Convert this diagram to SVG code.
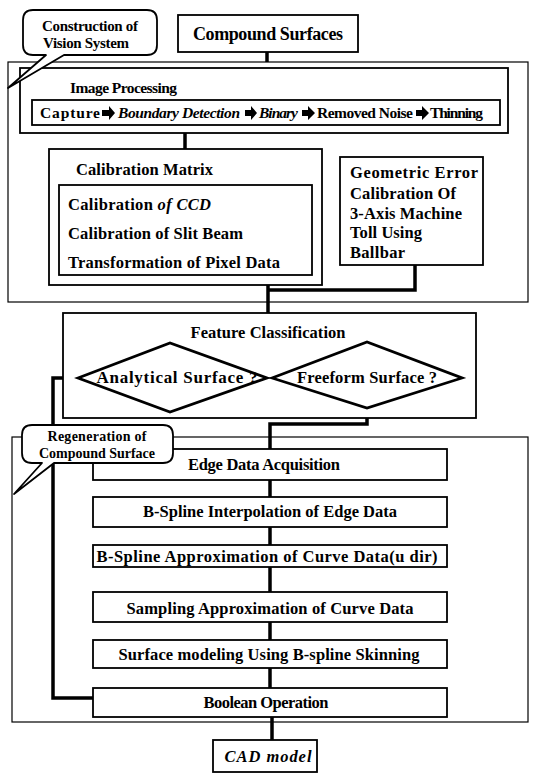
<svg xmlns="http://www.w3.org/2000/svg" width="533" height="777" viewBox="0 0 533 777">
<style>
text{font-family:"Liberation Serif","Times New Roman",serif;font-weight:bold;fill:#000}
.box{fill:#fff;stroke:#000;stroke-width:1.8}
.frame{fill:none;stroke:#000;stroke-width:1.2}
.call{fill:#fff;stroke:#000;stroke-width:1.8;stroke-linejoin:round}
.con{fill:none;stroke:#000;stroke-width:3.5}
.dia{fill:#fff;stroke:#000;stroke-width:2.8;stroke-linejoin:miter}
.mid{text-anchor:middle}
.it{font-style:italic}
</style>
<rect width="533" height="777" fill="#fff"/>

<!-- frames -->
<g id="frame-vision">
<rect class="frame" x="8" y="62" width="520" height="240"/>
</g>
<g id="frame-regeneration">
<rect class="frame" x="12" y="437" width="516" height="285"/>
</g>

<!-- connectors -->
<g id="connectors">
<path class="con" d="M267,52 V62"/>
<path class="con" d="M185,133 V149"/>
<path class="con" d="M415,265 V290 H268"/>
<path class="con" d="M268,285 V313"/>
<path class="con" d="M78,378 H53 V698 H93"/>
<path class="con" d="M367,408 V424 H270 V449"/>
<path class="con" d="M270,480 V497"/>
<path class="con" d="M270,527 V545"/>
<path class="con" d="M270,567 V592"/>
<path class="con" d="M270,622 V640"/>
<path class="con" d="M270,668 V688"/>
<path class="con" d="M272,717 V740"/>
</g>

<g id="compound-surfaces">
<rect class="box" x="178" y="15" width="180" height="37"/>
<text class="mid" x="268" y="40" font-size="18" textLength="150">Compound Surfaces</text>
</g>

<g id="image-processing">
<rect class="box" x="20" y="68" width="488" height="65"/>
<text x="70" y="93" font-size="15.5" textLength="107">Image Processing</text>
<rect class="box" x="32" y="100" width="468" height="25"/>
<text x="40" y="118" font-size="15.5" textLength="60">Capture</text>
<polygon points="102,110 109,110 109,106 115,113 109,120 109,116 102,116"/>
<text class="it" x="118" y="118" font-size="15.5" textLength="122">Boundary Detection</text>
<polygon points="245,110 251,110 251,106 257,113 251,120 251,116 245,116"/>
<text class="it" x="259" y="118" font-size="15.5" textLength="39">Binary</text>
<polygon points="302,110 308,110 308,106 315,113 308,120 308,116 302,116"/>
<text x="317" y="118" font-size="15.5" textLength="96">Removed Noise</text>
<polygon points="416,110 422,110 422,106 429,113 422,120 422,116 416,116"/>
<text x="430" y="118" font-size="15.5" textLength="53">Thinning</text>
</g>

<g id="calibration-matrix">
<rect class="box" x="49" y="149" width="273" height="136"/>
<text x="76" y="175" font-size="16.5" textLength="137">Calibration Matrix</text>
<rect class="box" x="59" y="185" width="253" height="90"/>
<text x="68" y="210" font-size="16.5" textLength="143">Calibration <tspan class="it">of CCD</tspan></text>
<text x="68" y="239" font-size="16.5" textLength="175">Calibration of Slit Beam</text>
<text x="68" y="268" font-size="16.5" textLength="212">Transformation of Pixel Data</text>
</g>

<g id="geometric-error">
<rect class="box" x="340" y="157" width="143" height="108"/>
<text x="350" y="178" font-size="16.5" textLength="128">Geometric Error</text>
<text x="350" y="199" font-size="16.5" textLength="106">Calibration Of</text>
<text x="350" y="219" font-size="16.5" textLength="112">3-Axis Machine</text>
<text x="350" y="238" font-size="16.5" textLength="72">Toll Using</text>
<text x="350" y="258" font-size="16.5" textLength="55">Ballbar</text>
</g>

<g id="feature-classification">
<rect class="box" x="63" y="313" width="413" height="105"/>
<text class="mid" x="268" y="338" font-size="16.5" textLength="155">Feature Classification</text>
</g>
<g id="analytical-surface">
<polygon class="dia" points="78,378 170,343 267,378 170,412"/>
<text class="mid" x="177" y="383" font-size="17" textLength="161">Analytical Surface ?</text>
</g>
<g id="freeform-surface">
<polygon class="dia" points="272,378 367,342 462,378 367,408"/>
<text class="mid" x="367" y="383" font-size="16.5" textLength="140">Freeform Surface ?</text>
</g>

<g id="edge-data">
<rect class="box" x="93" y="449" width="354" height="31"/>
<text class="mid" x="264" y="470" font-size="16.5" textLength="152">Edge Data Acquisition</text>
</g>
<g id="bspline-interp">
<rect class="box" x="93" y="497" width="354" height="30"/>
<text class="mid" x="270" y="517" font-size="16.5" textLength="254">B-Spline Interpolation of Edge Data</text>
</g>
<g id="bspline-approx">
<rect class="box" x="93" y="545" width="354" height="22"/>
<text class="mid" x="267" y="562" font-size="16.5" textLength="341">B-Spline Approximation of Curve Data(u dir)</text>
</g>
<g id="sampling">
<rect class="box" x="93" y="592" width="354" height="30"/>
<text class="mid" x="270" y="614" font-size="16.5" textLength="287">Sampling Approximation of Curve Data</text>
</g>
<g id="surface-modeling">
<rect class="box" x="93" y="640" width="354" height="28"/>
<text class="mid" x="269" y="660" font-size="16.5" textLength="301">Surface modeling Using B-spline Skinning</text>
</g>
<g id="boolean">
<rect class="box" x="93" y="688" width="354" height="29"/>
<text class="mid" x="266" y="708" font-size="16.5" textLength="125">Boolean Operation</text>
</g>

<g id="cad-model">
<rect class="box" x="213" y="740" width="104" height="32"/>
<text class="mid it" x="268" y="762" font-size="16.5" textLength="87">CAD model</text>
</g>

<g id="callout-vision">
<path class="call" d="M33,10 H147 Q157,10 157,20 V45 Q157,55 147,55 H64 L8,88 L46,55 H33 Q23,55 23,45 V20 Q23,10 33,10 Z"/>
<text class="mid" x="90" y="31" font-size="15" textLength="96">Construction of</text>
<text class="mid" x="86" y="48" font-size="15" textLength="86">Vision System</text>
</g>

<g id="callout-regeneration">
<path class="call" d="M32,425 H163 Q173,425 173,435 V453 Q173,463 163,463 H54 L14,494 L42,463 H32 Q22,463 22,453 V435 Q22,425 32,425 Z"/>
<text class="mid" x="97" y="441" font-size="14" textLength="99">Regeneration of</text>
<text class="mid" x="97" y="458" font-size="14" textLength="116">Compound Surface</text>
</g>
</svg>
